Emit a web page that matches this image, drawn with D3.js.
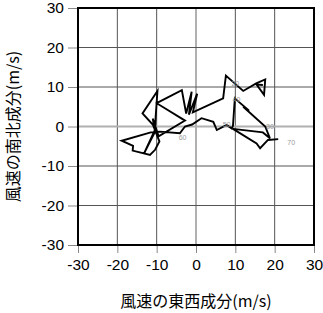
<!DOCTYPE html>
<html>
<head>
<meta charset="utf-8">
<script src="https://cdn.jsdelivr.net/npm/d3@7"></script>
<style>
  body { margin: 0; background: #fff; }
  text { font-family: "Liberation Sans", Arial, sans-serif; }
</style>
</head>
<body>
<script>
// wind components (m/s): east-west (u) and north-south (v)
var windU = [20.9, 18.3, 16.3, 15.4, 9.4, 17.0, 18.8, 17.6, 12.0, 13.5,
             10.0, 9.9, 9.4, 9.1, 7.8, 5.3, 4.4, 1.4, -1.0, -2.8,
             -4.1, -9.2, -11.5, -18.9, -16.0, -16.1, -11.7, -10.4, -9.3, -11.0,
             -13.6, -9.8, -10.5, -13.2, -10.4, -11.0, -9.5, -2.8, -10.0, -3.6,
             -2.5, -1.1, -1.8, 0.3, -0.8, 6.9, 7.6, 12.0, 15.3, 17.6,
             17.3, 15.4, 17.0];
var windV = [-3.2, -3.4, -5.5, -4.3, -0.6, -1.5, -3.0, 0.0, 5.0, 4.0,
             7.0, 7.5, 0.2, -0.5, 0.4, -0.9, 1.2, 2.1, 0.5, 0.0,
             -1.7, -1.3, -1.5, -3.6, -4.9, -6.1, -7.2, -5.9, -3.8, 0.5,
             3.3, 9.0, -1.0, -6.8, -1.3, 2.0, -2.5, 1.5, 5.9, 9.2,
             3.3, 8.8, 3.0, 8.3, 3.6, 7.1, 12.9, 9.0, 10.9, 11.9,
             8.0, 10.6, 10.5];

// small time labels along the trace
var labelText = ["60", "20", "40", "50", "30", "70"];
var labelU = [-3.4, 10.0, 10.3, 7.8, 18.8, 24.2];
var labelV = [-2.8, 10.8, 6.8, 0.4, 0.0, -4.0];

var ticks = [-30, -20, -10, 0, 10, 20, 30];

var W = 323, H = 313;
var margin = {top: 8, right: 9, bottom: 68, left: 78},
    width = W - margin.left - margin.right,
    height = H - margin.top - margin.bottom;

var x = d3.scaleLinear().domain([-30, 30]).range([0, width]);
var y = d3.scaleLinear().domain([-30, 30]).range([height, 0]);

var svg = d3.select("body").append("svg")
    .attr("width", W)
    .attr("height", H);

var g = svg.append("g")
    .attr("transform", "translate(" + margin.left + "," + margin.top + ")");

// grid
g.selectAll(".gx").data(ticks).enter().append("line")
    .attr("x1", function(d) { return x(d); })
    .attr("x2", function(d) { return x(d); })
    .attr("y1", 0).attr("y2", height)
    .attr("stroke", function(d) { return d === 0 ? "#b0b0b0" : "#555"; })
    .attr("stroke-width", function(d) { return d === 0 ? 2 : 1; });

g.selectAll(".gy").data(ticks).enter().append("line")
    .attr("y1", function(d) { return y(d); })
    .attr("y2", function(d) { return y(d); })
    .attr("x1", 0).attr("x2", width)
    .attr("stroke", function(d) { return d === 0 ? "#b0b0b0" : "#555"; })
    .attr("stroke-width", function(d) { return d === 0 ? 2 : 1; });

// axes (plain hyphen for negatives, like the original)
var fmt = function(d) { return String(d); };
var xAxis = d3.axisBottom(x).tickValues(ticks).tickFormat(fmt).tickSize(8).tickPadding(6);
var yAxis = d3.axisLeft(y).tickValues(ticks).tickFormat(fmt).tickSize(10).tickPadding(4);

var gx = g.append("g")
    .attr("transform", "translate(0," + height + ")")
    .call(xAxis);
var gy = g.append("g").call(yAxis);

[gx, gy].forEach(function(a) {
  a.select(".domain").remove();
  a.selectAll(".tick line").attr("stroke", "#888");
  a.selectAll(".tick text")
      .attr("fill", "#000")
      .style("font-size", "15.5px");
});

// frame
g.append("rect")
    .attr("width", width).attr("height", height)
    .attr("fill", "none")
    .attr("stroke", "#000")
    .attr("stroke-width", 2);

// trace
var pts = windU.map(function(u, i) { return [u, windV[i]]; });
g.append("path")
    .datum(pts)
    .attr("fill", "none")
    .attr("stroke", "#000")
    .attr("stroke-width", 1.9)
    .attr("d", d3.line()
        .x(function(d) { return x(d[0]); })
        .y(function(d) { return y(d[1]); }));

g.selectAll(".lbl").data(labelText).enter().append("text")
    .attr("x", function(d, i) { return x(labelU[i]); })
    .attr("y", function(d, i) { return y(labelV[i]); })
    .attr("dy", "0.35em")
    .attr("text-anchor", "middle")
    .attr("fill", "#999")
    .style("font-size", "7px")
    .text(function(d) { return d; });

// axis titles
svg.append("text")
    .attr("x", margin.left + width / 2)
    .attr("y", 307)
    .attr("text-anchor", "middle")
    .style("font-size", "16px")
    .style("font-family", "'Noto Sans CJK JP', sans-serif")
    .text("風速の東西成分(m/s)");

svg.append("text")
    .attr("transform", "translate(19," + (margin.top + height / 2) + ") rotate(-90)")
    .attr("text-anchor", "middle")
    .style("font-size", "16px")
    .style("font-family", "'Noto Sans CJK JP', sans-serif")
    .text("風速の南北成分(m/s)");
</script>
</body>
</html>
